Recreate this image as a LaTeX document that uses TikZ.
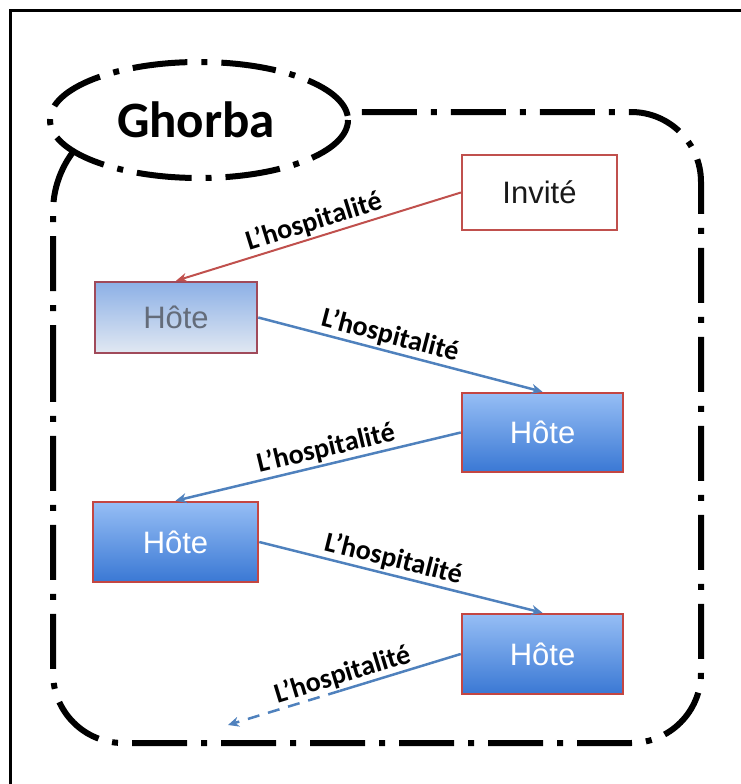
\documentclass[tikz,border=0pt]{standalone}
\usepackage{fontspec}
\setmainfont{Liberation Sans}
\newfontfamily\labelfont{Carlito}
\usetikzlibrary{arrows.meta,calc}

\definecolor{boxred}{RGB}{192,80,77}
\definecolor{edgered}{RGB}{196,70,66}
\definecolor{linkblue}{RGB}{79,129,189}
\definecolor{hosttop}{RGB}{150,190,245}
\definecolor{hostbottom}{RGB}{58,120,212}
\definecolor{pale}{RGB}{225,232,242}
\definecolor{paletop}{RGB}{140,176,230}

\begin{document}
\begin{tikzpicture}[x=1pt,y=-1pt,
  frame/.style={line width=6pt, dash pattern=on 55pt off 14pt on 6pt off 14pt},
  hostbox/.style={draw=edgered, line width=2.5pt, minimum width=161pt, minimum height=79pt,
    top color=hosttop, bottom color=hostbottom, text=white, inner sep=0pt,
    font=\fontsize{31}{31}\selectfont},
  guestbox/.style={draw=boxred, line width=2.2pt, fill=white, minimum width=155pt,
    minimum height=75pt, inner sep=0pt, text=black!90, font=\fontsize{31}{31}\selectfont},
  lbl/.style={font=\labelfont\bfseries\fontsize{28}{28}\selectfont, sloped, above, inner sep=2pt},
  redlink/.style={draw=boxred, line width=2pt, -{Stealth[length=11pt,width=9pt]}},
  bluelink/.style={draw=linkblue, line width=2.5pt, -{Stealth[length=11pt,width=10pt]}}
]
\useasboundingbox (0,0) rectangle (741,784);

% page frame, top and left edges
\draw[line width=3pt] (10.5,784) -- (10.5,10.5) -- (741,10.5);

% enclosing dash-dot region and its title ellipse
\draw[frame] (53,450) [rounded corners=100pt] -- (53,112)
  [rounded corners=70pt] -- (701,112) -- (701,743) -- (53,743) -- cycle;
\draw[frame, fill=white] (199,120) ellipse [x radius=149, y radius=58];
\node[font=\labelfont\bfseries\fontsize{51}{51}\selectfont] (title) at (196,120) {Ghorba};

% guest and hosts
\node[guestbox] (inv) at (539.5,192.5) {Invité};
\node[hostbox, draw={rgb,255:red,160;green,74;blue,90}, top color=paletop, bottom color=pale,
      text={rgb,255:red,100;green,108;blue,122}, minimum width=162pt, minimum height=71pt]
      (h1) at (176,317.5) {Hôte};
\node[hostbox] (h2) at (542.5,432.5) {Hôte};
\node[hostbox, minimum width=165pt, minimum height=80pt] (h3) at (175.5,542) {Hôte};
\node[hostbox, minimum height=80pt] (h4) at (542.5,654) {Hôte};

% hospitality passed along
\draw[redlink] (inv.west) -- (h1.north) node[lbl, pos=0.5] {L’hospitalité};
\draw[bluelink] (h1.east) -- (h2.north) node[lbl, pos=0.45] {L’hospitalité};
\draw[bluelink] (h2.west) -- (h3.north) node[lbl, pos=0.46] {L’hospitalité};
\draw[bluelink] (h3.east) -- (h4.north) node[lbl, pos=0.46] {L’hospitalité};

% open-ended continuation
\coordinate (next) at (228,725);
\coordinate (fade) at ($(h4.west)!0.52!(next)$);
\draw[draw=linkblue, line width=2.5pt] (h4.west) -- (fade);
\draw[bluelink, dash pattern=on 12pt off 9pt] (fade) -- (next);
\path (h4.west) -- (next) node[lbl, pos=0.49] {L’hospitalité};
\end{tikzpicture}
\end{document}
